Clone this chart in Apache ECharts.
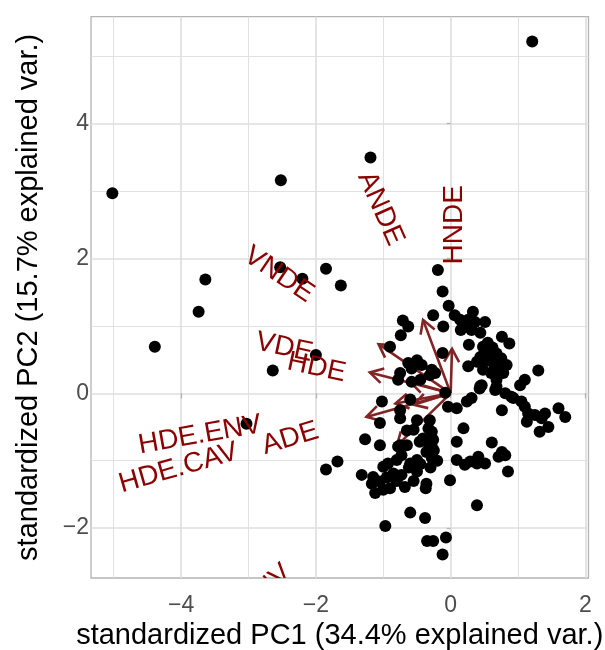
<!DOCTYPE html>
<html><head><meta charset="utf-8">
<script src="https://cdn.jsdelivr.net/npm/echarts@6/dist/echarts.min.js"></script>
<style>html,body{margin:0;padding:0;background:#fff}#c{width:605px;height:650px}</style>
</head><body><div id="c"></div>
<script>
// Scores (standardized PC1, PC2)
const pc1 = [
 1.21,-5.02,-2.52,-1.19,-2.53,-3.64,-2.20,-1.85,-1.63,-0.19,-0.12,-3.74,-4.39,-2.64,-2.00,-3.03,-1.85,-1.68,
 -0.03,0.06,0.14,0.19,0.26,0.33,-0.26,0.51,0.36,0.29,-0.71,-0.63,-0.74,-0.11,0.15,0.31,0.44,0.76,0.87,0.27,-0.90,-0.12,
 0.48,0.58,0.68,0.53,0.63,0.73,0.83,0.44,0.78,0.68,0.39,0.55,0.62,0.50,0.58,0.75,0.65,0.72,0.60,0.48,0.26,
 1.30,1.10,1.03,0.46,0.68,0.44,
 -0.63,-0.50,-0.43,-0.58,-0.28,-0.31,-0.23,-0.75,-0.78,-0.58,-0.45,-0.08,
 -0.04,0.09,0.24,0.31,0.43,0.66,0.81,0.90,0.93,1.05,1.10,1.15,1.13,1.25,1.35,1.40,1.32,1.45,1.60,1.70,0.76,0.19,0.09,0.61,0.76,0.81,0.71,0.09,0.21,0.29,0.41,0.39,0.51,0.85,-0.01,0.39,
 -1.02,-0.60,-0.75,-0.75,-1.05,-0.50,-0.31,-0.55,-0.33,-0.28,-0.65,-1.27,-1.05,-0.75,-0.65,-0.41,-0.26,-0.28,
 -0.78,-0.73,-0.80,-0.46,-0.33,-0.36,-0.28,-0.50,-0.60,-1.00,-0.93,-1.32,-1.15,-1.17,-1.05,-1.12,-1.00,-0.90,-0.73,-0.68,-0.50,-0.85,-0.36,-0.37,-0.60,-0.38,-0.97,-0.35,-0.26,-0.07,-0.12,
 -0.95,-0.62,-0.45,-0.30,-0.55,-0.80,-0.20,-0.25
];
const pc2 = [
 5.22,2.97,3.16,3.50,1.87,1.69,1.70,1.85,1.60,1.83,1.51,1.21,0.69,0.34,0.57,-0.45,-1.13,-1.01,
 1.30,1.16,1.09,1.01,1.09,1.21,1.16,1.06,1.06,0.96,1.08,0.99,0.86,0.99,0.94,0.94,0.90,0.84,0.74,0.72,0.69,0.60,
 0.69,0.62,0.59,0.49,0.45,0.47,0.42,0.54,0.30,0.20,0.47,0.75,0.68,0.60,0.55,0.52,0.36,0.40,0.30,0.35,0.40,
 0.34,0.20,0.12,0.12,0.10,0.11,
 0.45,0.49,0.42,0.37,0.35,0.27,0.30,0.30,0.20,0.17,0.20,0.01,
 -0.20,-0.22,-0.12,-0.07,0.07,0.05,0.00,-0.05,-0.07,-0.12,-0.20,-0.30,-0.42,-0.32,-0.37,-0.30,-0.57,-0.50,-0.22,-0.35,-0.25,-0.52,-0.72,-0.73,-0.87,-0.92,-0.94,-0.99,-1.06,-1.01,-0.94,-1.04,-1.04,-1.16,-1.29,-1.66,
 -0.12,-0.09,-0.25,-0.37,-0.44,-0.40,-0.40,-0.54,-0.52,-0.57,-0.55,-0.68,-0.77,-0.77,-0.77,-0.67,-0.69,-0.79,
 -0.79,-0.92,-0.99,-0.72,-0.74,-0.87,-0.96,-0.99,-1.04,-1.09,-1.04,-1.21,-1.24,-1.34,-1.31,-1.48,-1.43,-1.41,-1.21,-1.39,-1.16,-1.19,-1.34,-1.41,-1.77,-1.85,-1.97,-2.19,-2.19,-2.14,-2.39,
 -1.25,-1.10,-1.05,-1.10,-1.30,-1.30,-1.00,-0.85
];
// Variable loadings (arrow tips)
const varNames = ['HNDE','ANDE','VNDE','VDE','HDE','HDE.ENV','HDE.CAV','ADE','VDE.ENV'];
const varX = [0.02,-0.41,-1.07,-1.20,-0.60,-0.82,-1.25,-0.55,-0.80];
const varY = [0.66,1.09,0.73,0.31,0.17,-0.15,-0.35,-0.17,-0.78];
// Label anchor points
const labelX = [0.05,-1.04,-2.55,-2.47,-1.99,-3.72,-4.04,-2.38,-3.10];
const labelY = [2.50,2.74,1.76,0.68,0.38,-0.62,-1.11,-0.67,-3.22];
const labelAngle = [90,-66,-34,-12,-12,10,16,17,42];
// Axis ticks
const xTicks = [-4,-2,0,2];
const yTicks = [-2,0,2,4];
const xMinor = [-5,-3,-1,1];
const yMinor = [-1,1,3,5];

const FONT = "'Liberation Sans', Arial, Helvetica, sans-serif";
const fmt = v => (v < 0 ? '\u2212' + Math.abs(v) : String(v));

const gridLines = [];
xMinor.forEach(v => gridLines.push({xAxis: v, lineStyle: {width: 0.9}}));
yMinor.forEach(v => gridLines.push({yAxis: v, lineStyle: {width: 0.9}}));
xTicks.forEach(v => gridLines.push({xAxis: v, lineStyle: {width: 1.6}}));
yTicks.forEach(v => gridLines.push({yAxis: v, lineStyle: {width: 1.6}}));

const chart = echarts.init(document.getElementById('c'), null, {renderer: 'canvas'});
chart.setOption({
  animation: false,
  backgroundColor: '#fff',
  grid: {left: 91, right: 16.5, top: 16.7, bottom: 72, show: true, borderColor: '#B3B3B3', borderWidth: 1.3,
         backgroundColor: 'transparent', containLabel: false, outerBoundsMode: 'none'},
  xAxis: {
    type: 'value', min: -5.337, max: 2.045,
    axisLine: {show: false},
    splitLine: {show: false},
    axisTick: {show: true, customValues: xTicks, length: 5, lineStyle: {color: '#B3B3B3', width: 1.3}},
    axisLabel: {customValues: xTicks, formatter: fmt, color: '#4D4D4D', fontSize: 23, fontFamily: FONT, margin: 16},
    name: 'standardized PC1 (34.4% explained var.)',
    nameLocation: 'middle', nameGap: 42,
    nameTextStyle: {color: '#000', fontSize: 29, fontFamily: FONT}
  },
  yAxis: {
    type: 'value', min: -2.740, max: 5.588,
    axisLine: {show: false},
    splitLine: {show: false},
    axisTick: {show: true, customValues: yTicks, length: 4, lineStyle: {color: '#B3B3B3', width: 1.3}},
    axisLabel: {customValues: yTicks, formatter: fmt, color: '#4D4D4D', fontSize: 23, fontFamily: FONT, margin: 2},
    name: 'standardized PC2 (15.7% explained var.)',
    nameLocation: 'middle', nameGap: 48,
    nameTextStyle: {color: '#000', fontSize: 29, fontFamily: FONT}
  },
  series: [
    {
      type: 'scatter', data: [], z: 0, silent: true,
      markLine: {silent: true, z: 0, symbol: 'none', label: {show: false}, animation: false,
        lineStyle: {color: '#DEDEDE', type: 'solid'}, data: gridLines}
    },
    {
      type: 'custom', z: 2, clip: true, silent: true,
      data: varX.map((x, i) => [x, varY[i]]),
      encode: {x: 0, y: 1},
      renderItem: function (params, api) {
        const p0 = api.coord([0, 0]);
        const p1 = api.coord([api.value(0), api.value(1)]);
        const dx = p1[0] - p0[0], dy = p1[1] - p0[1];
        const len = Math.sqrt(dx * dx + dy * dy);
        const ux = dx / len, uy = dy / len;
        const L = 15, a = Math.PI / 6;
        const h = s => {
          const c = Math.cos(s * a), sn = Math.sin(s * a);
          const rx = ux * c - uy * sn, ry = ux * sn + uy * c;
          return [p1[0] - L * rx, p1[1] - L * ry];
        };
        const st = {stroke: '#832424', lineWidth: 2.6, fill: null, lineCap: 'butt', lineJoin: 'miter'};
        return {type: 'group', children: [
          {type: 'line', shape: {x1: p0[0], y1: p0[1], x2: p1[0], y2: p1[1]}, style: st},
          {type: 'polyline', shape: {points: [h(1), p1, h(-1)]}, style: st}
        ]};
      }
    },
    {
      type: 'scatter', z: 3, symbol: 'circle', symbolSize: 12, silent: true,
      itemStyle: {color: '#000', opacity: 1},
      data: pc1.map((x, i) => [x, pc2[i]])
    },
    {
      type: 'custom', z: 4, clip: true, silent: true,
      data: labelX.map((x, i) => [x, labelY[i]]),
      encode: {x: 0, y: 1},
      renderItem: function (params, api) {
        const i = params.dataIndex;
        const p = api.coord([api.value(0), api.value(1)]);
        return {type: 'text', x: p[0], y: p[1], rotation: labelAngle[i] * Math.PI / 180,
          style: {text: varNames[i], fill: '#8B0000', font: '28px ' + FONT, align: 'center', verticalAlign: 'middle'}};
      }
    }
  ]
});
</script></body></html>
